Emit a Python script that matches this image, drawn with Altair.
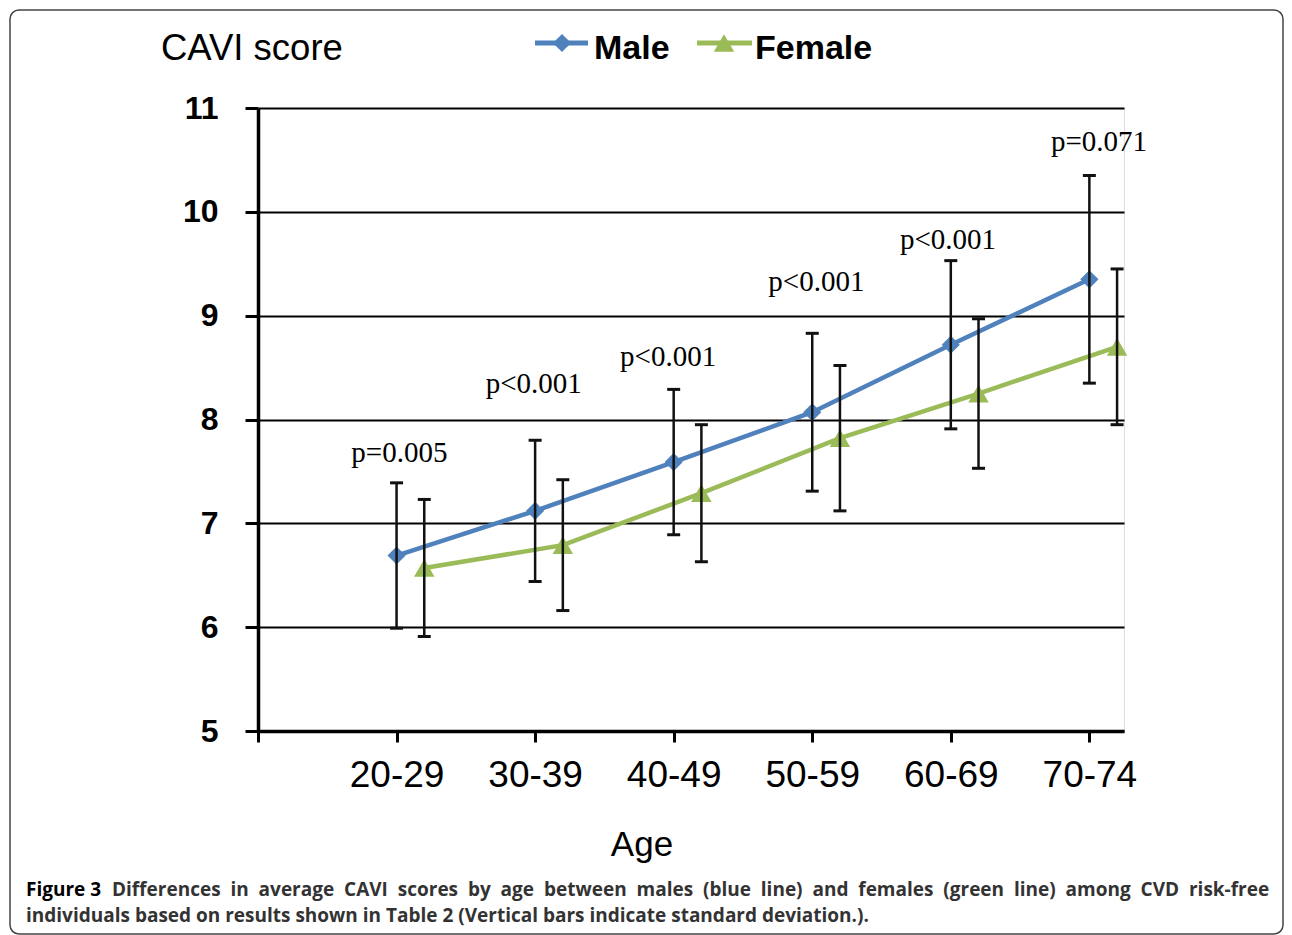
import altair as alt
import pandas as pd

# ---------------- data ----------------
age_groups = ["20-29", "30-39", "40-49", "50-59", "60-69", "70-74"]
male_mean = [6.69, 7.12, 7.59, 8.07, 8.72, 9.35]
male_sd = [0.70, 0.68, 0.70, 0.76, 0.81, 1.00]
female_mean = [6.57, 6.79, 7.29, 7.82, 8.25, 8.70]
female_sd = [0.66, 0.63, 0.66, 0.70, 0.72, 0.75]

p_labels = ["p=0.005", "p<0.001", "p<0.001", "p<0.001", "p<0.001", "p=0.071"]
p_label_x = [1.02, 1.99, 2.96, 4.03, 4.98, 6.07]
p_label_y = [7.68, 8.34, 8.60, 9.32, 9.73, 10.67]

series_names = ["Male", "Female"]
series_colors = ["#4F81BD", "#9BBB59"]
series_shapes = ["diamond", "triangle-up"]
series_sizes = [330, 420]
series_offset = [0.0, 0.2]

y_ticks = [5, 6, 7, 8, 9, 10, 11]
x_ticks = [0, 1, 2, 3, 4, 5, 6]

caption_head = "Figure 3"
caption_line1 = ("Differences in average CAVI scores by age between males (blue line) "
                 "and females (green line) among CVD risk-free")
caption_line2 = ("individuals based on results shown in Table 2 (Vertical bars indicate "
                 "standard deviation.).")
# justified first caption line: widen each word gap with a no-break space
caption_line1_justified = caption_line1.replace(" ", " \u00a0")

# ---------------- tables ----------------
rows = []
for s, means, sds, off in [("Male", male_mean, male_sd, series_offset[0]),
                           ("Female", female_mean, female_sd, series_offset[1])]:
    for i, (g, m, sd) in enumerate(zip(age_groups, means, sds)):
        rows.append({"series": s, "age": g, "x": i + 1 + off, "mean": m,
                     "lo": m - sd, "hi": m + sd})
df = pd.DataFrame(rows)
pdf = pd.DataFrame({"label": p_labels, "x": p_label_x, "y": p_label_y})

label_arr = "[" + ",".join(['""'] + ['"%s"' % g for g in age_groups]) + "]"

W, H = 866, 623
XDOM = [0, 6.25]

x_axis = alt.Axis(values=x_ticks, title=None, grid=False, domainColor="black",
                  domainWidth=3.5, tickColor="black", tickWidth=3, tickSize=11,
                  labelExpr=label_arr + "[datum.value]",
                  labelFont="Liberation Sans", labelFontSize=37,
                  labelColor="black", labelPadding=15,
                  labelFlush=False, labelOverlap=False)
y_axis = alt.Axis(values=y_ticks, title=None, grid=True, gridColor="black",
                  gridWidth=2, gridOpacity=1, domainColor="black", domainWidth=3.5,
                  tickColor="black", tickWidth=3, tickSize=13,
                  labelFont="Liberation Sans", labelFontWeight="bold",
                  labelFontSize=32, labelColor="black", labelPadding=27,
                  format="d", labelFlush=False, labelOverlap=False)

xs = alt.Scale(domain=XDOM, nice=False, zero=False)
ys = alt.Scale(domain=[5, 11], nice=False, zero=False)

color = alt.Color("series:N", scale=alt.Scale(domain=series_names, range=series_colors),
                  legend=None)
shape = alt.Shape("series:N", scale=alt.Scale(domain=series_names, range=series_shapes),
                  legend=None)
size = alt.Size("series:N", scale=alt.Scale(domain=series_names, range=series_sizes),
                legend=None)

base = alt.Chart(df)
X = alt.X("x:Q", scale=xs, axis=x_axis)

lines = base.mark_line(strokeWidth=4.5).encode(
    x=X,
    y=alt.Y("mean:Q", scale=ys, axis=y_axis),
    color=color,
    detail="series:N",
)
points = base.mark_point(filled=True, opacity=1).encode(
    x=X,
    y=alt.Y("mean:Q", scale=ys, axis=y_axis),
    color=color,
    shape=shape,
    size=size,
)
err = base.mark_rule(color="#111111", strokeWidth=2.5).encode(
    x=X,
    y=alt.Y("lo:Q", scale=ys, axis=y_axis),
    y2="hi:Q",
)
cap_lo = base.mark_tick(orient="horizontal", size=13, thickness=3, color="#111111",
                        opacity=1).encode(
    x=X,
    y=alt.Y("lo:Q", scale=ys, axis=y_axis),
)
cap_hi = base.mark_tick(orient="horizontal", size=13, thickness=3, color="#111111",
                        opacity=1).encode(
    x=X,
    y=alt.Y("hi:Q", scale=ys, axis=y_axis),
)
ptext = alt.Chart(pdf).mark_text(font="Liberation Serif", fontSize=29, color="black",
                                 align="center", baseline="middle").encode(
    x=X,
    y=alt.Y("y:Q", scale=ys, axis=y_axis),
    text="label:N",
)

# ---------------- decorations ----------------
one = pd.DataFrame({"t": [""]})

border = alt.Chart(one).mark_rect(fillOpacity=0, stroke="#444444", strokeWidth=1.5,
                                  cornerRadius=9).encode(
    x=alt.value(-248), x2=alt.value(1025), y=alt.value(-98), y2=alt.value(826))

ytitle = alt.Chart(pd.DataFrame({"t": ["CAVI score"]})).mark_text(
    font="Liberation Sans", fontSize=36.5, color="black", align="left",
    baseline="middle").encode(x=alt.value(-97), y=alt.value(-59), text="t:N")

xtitle = alt.Chart(pd.DataFrame({"t": ["Age"]})).mark_text(
    font="Liberation Sans", fontSize=35, color="black", align="center",
    baseline="middle").encode(x=alt.value(384), y=alt.value(737), text="t:N")

leg_lines = []
leg_specs = [
    ("Male", series_colors[0], series_shapes[0], series_sizes[0], 277, 330, 304, 336),
    ("Female", series_colors[1], series_shapes[1], series_sizes[1], 439, 494, 466, 497),
]
for name, col, shp, sz, x1, x2, xm, xt in leg_specs:
    d = pd.DataFrame({"t": [name]})
    leg_lines.append(alt.Chart(d).mark_rule(color=col, strokeWidth=5).encode(
        x=alt.value(x1), x2=alt.value(x2), y=alt.value(-65)))
    leg_lines.append(alt.Chart(d).mark_point(filled=True, opacity=1, size=sz,
                                             color=col, shape=shp).encode(
        x=alt.value(xm), y=alt.value(-65)))
    leg_lines.append(alt.Chart(d).mark_text(font="Liberation Sans", fontWeight="bold",
                                            fontSize=34, color="black", align="left",
                                            baseline="middle").encode(
        x=alt.value(xt), y=alt.value(-59), text="t:N"))

CAP_FS = 19
cap_head = alt.Chart(pd.DataFrame({"t": [caption_head]})).mark_text(
    font="Open Sans", fontWeight="bold", fontSize=CAP_FS, color="black", align="left",
    baseline="alphabetic").encode(x=alt.value(-232), y=alt.value(788), text="t:N")
cap_l1 = alt.Chart(pd.DataFrame({"t": [caption_line1_justified]})).mark_text(
    font="Open Sans", fontWeight="bold", fontSize=CAP_FS, color="#333333", align="left",
    baseline="alphabetic").encode(x=alt.value(-146), y=alt.value(788), text="t:N")
cap_l2 = alt.Chart(pd.DataFrame({"t": [caption_line2]})).mark_text(
    font="Open Sans", fontWeight="bold", fontSize=CAP_FS, color="#333333", align="left",
    baseline="alphabetic").encode(x=alt.value(-232), y=alt.value(814), text="t:N")

chart = alt.layer(
    lines, points, err, cap_lo, cap_hi, ptext,
    border, ytitle, xtitle, *leg_lines, cap_head, cap_l1, cap_l2,
).properties(
    width=W, height=H,
    autosize=alt.AutoSizeParams(type="none"),
    padding={"left": 250, "top": 100, "right": 160, "bottom": 204},
).configure_view(stroke=None).configure(background="white")

chart.save("out.html", embed_options={"renderer": "svg", "actions": False})
